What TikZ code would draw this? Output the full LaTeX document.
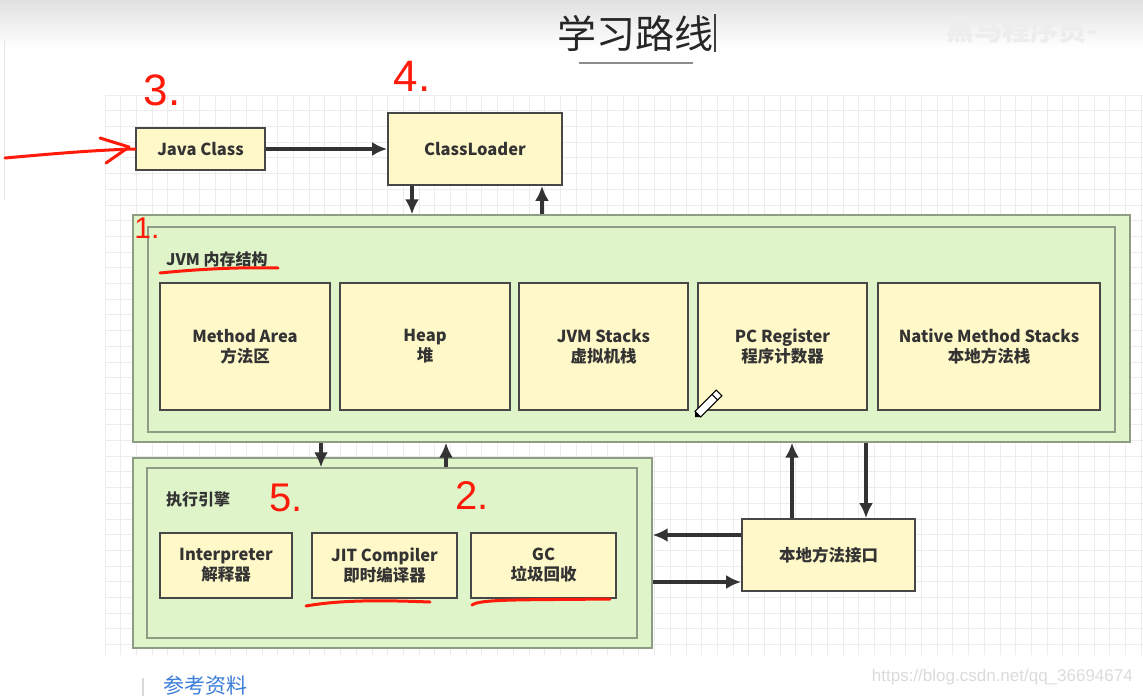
\documentclass[tikz,border=0pt]{standalone}
\usepackage{fontspec}
\setmainfont{Noto Sans CJK SC}
\newfontfamily\handfont{Liberation Sans}
\newfontfamily\urlfont{Liberation Sans}
\usetikzlibrary{arrows.meta,calc}
\definecolor{boxyellow}{HTML}{FFF8C8}
\definecolor{boxgreen}{HTML}{DFF5C9}
\definecolor{greenline}{HTML}{8E9C86}
\definecolor{darktext}{HTML}{333333}
\definecolor{gridgray}{HTML}{ECECEC}
\definecolor{penred}{HTML}{FF1A0A}
\definecolor{linkblue}{HTML}{3B7DD8}
\tikzset{
  ybox/.style={draw=darktext!90, line width=1.8pt, fill=boxyellow, text=darktext,
    font=\fontsize{16.5}{20}\selectfont\bfseries, align=center, inner sep=0pt},
  gbox/.style={draw=greenline, line width=1.4pt, fill=boxgreen, inner sep=0pt},
  arr/.style={draw=darktext, line width=3.6pt, -{Latex[length=15pt,width=14pt]}},
  redpen/.style={draw=penred, line width=3pt, line cap=round, line join=round},
  hand/.style={text=penred, font=\handfont\fontsize{44}{44}\selectfont, inner sep=0pt},
}
\begin{document}
\begin{tikzpicture}[x=1pt,y=-1pt]
\useasboundingbox (0,0) rectangle (1143,696);
\clip (0,0) rectangle (1143,696);
% page background
\fill[white] (0,0) rectangle (1143,696);
\shade[top color=black!12, bottom color=white] (0,0) rectangle (1143,48);
\draw[black!10, line width=1pt] (4,40) -- (4,200);
% grid
\begin{scope}
\clip (105,95) rectangle (1143,655);
\foreach \i in {0,...,70} {\draw[gridgray, line width=0.8pt] ({105+15.7*\i},95) -- ({105+15.7*\i},655);}
\foreach \j in {0,...,36} {\draw[gridgray, line width=0.8pt] (105,{95+15.7*\j}) -- (1143,{95+15.7*\j});}
\end{scope}
% title
\node[text=black!85, font=\fontsize{39}{39}\selectfont, inner sep=0pt] (title) at (635,33) {学习路线};
\draw[black!75, line width=1.4pt] (715,14) -- (715,52);
\draw[black!45, line width=1.2pt] (579,63) -- (693,63);
\node[text=black!7, font=\fontsize{28}{28}\selectfont\bfseries, inner sep=0pt] (wm) at (1022,30) {黑马程序员-};

% top boxes
\node[ybox, minimum width=129pt, minimum height=42pt] (jc) at (200.5,149) {Java Class};
\node[ybox, minimum width=174pt, minimum height=72pt] (cl) at (475,149) {ClassLoader};

% JVM memory structure
\node[gbox, minimum width=997pt, minimum height=227pt] (jvmo) at (631.5,328.5) {};
\node[gbox, minimum width=967pt, minimum height=205pt] (jvmi) at (631.5,329.5) {};
\node[anchor=west, text=darktext, font=\fontsize{16}{18}\selectfont\bfseries, inner sep=0pt] (jvmlabel) at (166,259) {JVM 内存结构};
\node[ybox, minimum width=170pt, minimum height=127pt] (ma) at (245,346.5) {Method Area\\方法区};
\node[ybox, minimum width=170pt, minimum height=127pt] (heap) at (425,346.5) {Heap\\堆};
\node[ybox, minimum width=169pt, minimum height=127pt] (jvms) at (603.5,346.5) {JVM Stacks\\虚拟机栈};
\node[ybox, minimum width=169pt, minimum height=127pt] (pc) at (782.5,346.5) {PC Register\\程序计数器};
\node[ybox, minimum width=222pt, minimum height=127pt] (nms) at (989,346.5) {Native Method Stacks\\本地方法栈};

% execution engine
\node[gbox, minimum width=519pt, minimum height=190pt] (exo) at (392.5,553) {};
\node[gbox, minimum width=490pt, minimum height=170pt] (exi) at (392,553) {};
\node[anchor=west, text=darktext, font=\fontsize{16}{18}\selectfont\bfseries, inner sep=0pt] (exlabel) at (166,499) {执行引擎};
\node[ybox, minimum width=132pt, minimum height=65pt] (interp) at (226,565.5) {Interpreter\\解释器};
\node[ybox, minimum width=145pt, minimum height=65pt] (jit) at (384.5,565.5) {JIT Compiler\\即时编译器};
\node[ybox, minimum width=145pt, minimum height=65pt] (gc) at (543.5,565.5) {GC\\垃圾回收};

% native interface
\node[ybox, minimum width=173pt, minimum height=72pt] (ni) at (828.5,555) {本地方法接口};

% helper coordinates
\coordinate (xa) at (412,0);
\coordinate (xb) at (542,0);
\coordinate (xc) at (321,0);
\coordinate (xd) at (446,0);
\coordinate (xe) at (792,0);
\coordinate (xf) at (866,0);
\coordinate (ya) at (0,535);
\coordinate (yb) at (0,582);

% connectors
\draw[arr] (jc.east) -- (cl.west |- jc.east);
\draw[arr] (cl.south -| xa) -- (jvmo.north -| xa);
\draw[arr] (jvmo.north -| xb) -- (cl.south -| xb);
\draw[arr] (jvmo.south -| xc) -- (exi.north -| xc);
\draw[arr] (exi.north -| xd) -- (jvmo.south -| xd);
\draw[arr] (ni.north -| xe) -- (jvmo.south -| xe);
\draw[arr] (jvmo.south -| xf) -- (ni.north -| xf);
\draw[arr] (ni.west |- ya) -- (exo.east |- ya);
\draw[arr] (exo.east |- yb) -- (ni.west |- yb);

% red handwritten annotations
\node[hand] (n3) at (162,90) {3.};
\node[hand] (n4) at (412,76) {4.};
\node[hand, font=\handfont\fontsize{30}{30}\selectfont] (n1) at (147,228) {1.};
\node[hand, font=\handfont\fontsize{40}{40}\selectfont] (n5) at (286,498) {5.};
\node[hand, font=\handfont\fontsize{40}{40}\selectfont] (n2) at (472,496) {2.};
\coordinate (rs) at (5,158);
\draw[redpen] (rs) .. controls (50,154) and (95,150) .. (jc.west);
\draw[redpen] (100,138) -- (129,147) -- (106,163);
\draw[redpen] (160,273) .. controls (200,269) and (240,267) .. (278,268);
\draw[redpen] (306,606) .. controls (340,600) and (380,600) .. (430,602);
\draw[redpen] (472,605) .. controls (480,599) and (520,600) .. (610,599);

% pencil cursor
\begin{scope}[shift={(695,417)}, rotate=45]
\draw[black, fill=white, line width=1pt] (4,-4) -- (34,-4) -- (34,4) -- (4,4) -- cycle;
\fill[black] (0,0) -- (4,-4) -- (4,4) -- cycle;
\draw[black, line width=1pt] (28,-4) -- (28,4);
\end{scope}

% bottom
\draw[black!15, line width=1.5pt] (143,678) -- (143,696);
\node[anchor=north west, text=linkblue, font=\fontsize{21}{21}\selectfont, inner sep=0pt] (ref) at (163,676) {参考资料};
\node[anchor=east, text=black!14, font=\urlfont\fontsize{17}{17}\selectfont, inner sep=0pt] (url) at (1133,677) {https://blog.csdn.net/qq\_36694674};
\end{tikzpicture}
\end{document}
